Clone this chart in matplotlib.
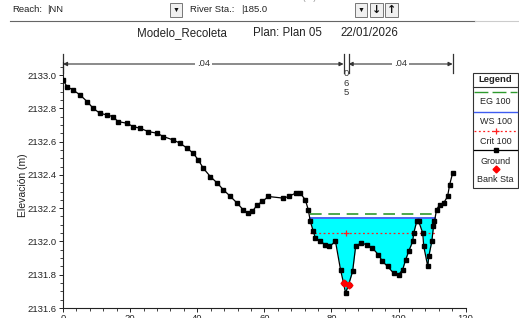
import numpy as np
import matplotlib
matplotlib.use("Agg")
import matplotlib.pyplot as plt
from matplotlib.lines import Line2D
from matplotlib.patches import Rectangle
import matplotlib.transforms as mtransforms

plt.rcParams['font.family'] = ['Liberation Sans', 'DejaVu Sans']

# ---------------- data ----------------
station = [0, 1.2, 3.0, 5.1, 7.2, 9.0, 11.0, 13.1, 14.9, 16.4, 19.1, 20.9, 23.0, 25.4,
           28.1, 29.9, 32.8, 34.9, 37.0, 38.8, 40.3, 41.8, 43.9, 46.0, 47.8, 49.9, 51.9,
           53.7, 55.2, 56.4, 57.9, 59.4, 61.2, 65.7, 67.2, 69.3, 70.7, 72.2, 73.1, 73.7,
           74.6, 75.2, 76.7, 78.2, 79.4, 81.2, 82.7, 83.6, 84.2, 85.1, 86.3, 87.2, 88.7,
           90.7, 92.2, 94.0, 95.2, 96.7, 98.5, 100.0, 101.2, 102.1, 103.0, 104.2, 104.5,
           105.4, 106.0, 107.2, 107.5, 108.7, 109.0, 109.9, 110.4, 110.7, 111.3, 112.2,
           113.4, 114.6, 115.2, 116.1]
elevation = [2132.97, 2132.93, 2132.91, 2132.88, 2132.84, 2132.80, 2132.77, 2132.76,
             2132.75, 2132.72, 2132.71, 2132.69, 2132.68, 2132.66, 2132.65, 2132.63,
             2132.61, 2132.59, 2132.56, 2132.53, 2132.49, 2132.44, 2132.39, 2132.35,
             2132.31, 2132.27, 2132.23, 2132.19, 2132.17, 2132.18, 2132.22, 2132.24,
             2132.27, 2132.26, 2132.27, 2132.29, 2132.29, 2132.25, 2132.19, 2132.12,
             2132.06, 2132.02, 2132.00, 2131.98, 2131.97, 2132.00, 2131.83, 2131.75,
             2131.69, 2131.74, 2131.82, 2131.97, 2131.99, 2131.98, 2131.96, 2131.92,
             2131.88, 2131.85, 2131.81, 2131.80, 2131.83, 2131.89, 2131.94, 2132.00,
             2132.05, 2132.12, 2132.12, 2132.05, 2131.97, 2131.85, 2131.91, 2132.00,
             2132.09, 2132.12, 2132.19, 2132.22, 2132.23, 2132.27, 2132.34, 2132.41]
bank_stations = [83.6, 85.1]
ws_elev = 2132.14
eg_elev = 2132.165
crit_elev = 2132.05
n_stations = [0, 83.6, 85.1, 116.1]
n_values = ['.04', '.065', '.04']
xticks = [0, 20, 40, 60, 80, 100, 120]
yticks = [2131.6, 2131.8, 2132.0, 2132.2, 2132.4, 2132.6, 2132.8, 2133.0]

st = np.array(station)
el = np.array(elevation)

W, H = 519, 318
fig = plt.figure(figsize=(W / 100, H / 100), dpi=100)
fig.patch.set_facecolor('white')


def P(x, y):
    return (x / W, 1 - y / H)


ax_l, ax_r, ax_b, ax_t = 63, 465.7, 308, 61.7
ax = fig.add_axes([ax_l / W, 1 - ax_b / H, (ax_r - ax_l) / W, (ax_b - ax_t) / H])
ax.set_xlim(0, 120)
ax.set_ylim(2131.6, 2133.0 + (75 - ax_t) / 166.4)
for s in ['top', 'right']:
    ax.spines[s].set_visible(False)
for s in ['left', 'bottom']:
    ax.spines[s].set_linewidth(0.8)
    ax.spines[s].set_color('#222222')

ax.set_xticks(xticks)
ax.set_xticklabels([str(v) for v in xticks])
ax.set_yticks(yticks)
ax.set_yticklabels([f"{v:.1f}" for v in yticks])
ax.set_xticks(np.arange(0, 121, 4), minor=True)
ax.set_yticks(np.arange(2131.6, 2133.05, 0.05), minor=True)
ax.tick_params(which='major', direction='out', length=3, width=0.7, labelsize=6.8,
               pad=1.5, colors='#222222')
ax.tick_params(which='minor', direction='out', length=2, width=0.6, colors='#222222')
ax.set_ylabel('Elevación (m)', fontsize=7.5, labelpad=0, color='#222222')


# water extent
def crossings(level):
    below = el < level
    idx = np.where(below)[0]
    i0, i1 = idx[0], idx[-1]
    xl = np.interp(level, [el[i0], el[i0 - 1]], [st[i0], st[i0 - 1]])
    xr = np.interp(level, [el[i1], el[i1 + 1]], [st[i1], st[i1 + 1]])
    return xl, xr


xl, xr = crossings(ws_elev)
ax.fill_between(st, el, ws_elev, where=el < ws_elev, interpolate=True,
                color='#00FFFF', linewidth=0, zorder=1)
ax.plot([xl, xr], [eg_elev, eg_elev], color='#2E9A2E', lw=1.2,
        dashes=(7, 4), zorder=3)
ax.plot([xl, xr], [ws_elev, ws_elev], color='#3E5CF0', lw=1.3, zorder=3)
ax.plot([xl, xr], [crit_elev, crit_elev], color='#FF2020', lw=0.9,
        linestyle=(0, (1.5, 2)), zorder=3)
thal = st[np.argmin(el)]
ax.plot([thal], [crit_elev], marker='+', color='#FF2020', ms=5, mew=0.9, zorder=4)

ax.plot(st, el, color='black', lw=0.9, marker='s', ms=3.3, zorder=5)
bank_el = np.interp(bank_stations, st, el)
ax.plot(bank_stations, bank_el, linestyle='none', marker='D', color='#FF0000',
        ms=3.5, zorder=6)

# Manning n annotations
trans = mtransforms.blended_transform_factory(ax.transData, ax.transAxes)
y_n = (ax_b - 64) / (ax_b - ax_t)
y_bar0 = (ax_b - 73) / (ax_b - ax_t)
y_bar1 = (ax_b - 54) / (ax_b - ax_t)
for s in n_stations:
    ax.add_line(Line2D([s, s], [y_bar0, y_bar1], transform=trans, color='#333333',
                       lw=0.9, clip_on=False))
for i, v in enumerate(n_values):
    a, b = n_stations[i], n_stations[i + 1]
    if b - a > 5:
        ax.annotate('', xy=(a, y_n), xytext=(b, y_n), xycoords=trans,
                    textcoords=trans,
                    arrowprops=dict(arrowstyle='<|-|>', color='#333333', lw=0.8,
                                    mutation_scale=6, shrinkA=0, shrinkB=0),
                    annotation_clip=False)
        ax.text((a + b) / 2, y_n, v, transform=trans, ha='center', va='center',
                fontsize=6.8, color='#333333',
                bbox=dict(facecolor='white', edgecolor='none', pad=1.2), clip_on=False)
    else:
        ax.text((a + b) / 2, (ax_b - 83) / (ax_b - ax_t), '\n'.join(v[1:]),
                transform=trans, ha='center', va='center', fontsize=6.8,
                color='#333333', linespacing=1.05, clip_on=False)

# title
fig.text(*P(137, 33), 'Modelo_Recoleta', fontsize=8.3, ha='left', va='center', color='#222222')
fig.text(*P(253, 33), 'Plan: Plan 05', fontsize=8.3, ha='left', va='center', color='#222222')
fig.text(*P(340, 33), '22/01/2026', fontsize=8.3, ha='left', va='center', color='#222222')

# toolbar
fig.text(*P(12, 10), 'Reach:', fontsize=6.8, ha='left', va='center', color='#222222')
fig.text(*P(47, 10), '|NN', fontsize=6.8, ha='left', va='center', color='#222222')
fig.text(*P(190, 10), 'River Sta.:', fontsize=6.8, ha='left', va='center', color='#222222')
fig.text(*P(241, 10), '|185.0', fontsize=6.8, ha='left', va='center', color='#222222')
fig.text(*P(290, -2), 'Distancia (m)', fontsize=6.5, ha='center', va='center', color='#999999')
for bx in [170, 355]:
    fig.patches.append(Rectangle(P(bx, 17), 12 / W, 14 / H, transform=fig.transFigure,
                                 facecolor='#F0F0F0', edgecolor='#777777', lw=0.7))
    fig.text(*P(bx + 6, 10), '▼', fontsize=5, ha='center', va='center', color='#111111')
for bx, g in [(370, '↓'), (385, '↑')]:
    fig.patches.append(Rectangle(P(bx, 17), 13 / W, 14 / H, transform=fig.transFigure,
                                 facecolor='#F0F0F0', edgecolor='#777777', lw=0.7))
    fig.text(*P(bx + 6.5, 10), g, fontsize=8, fontweight='bold', ha='center',
             va='center', color='#111111', family='DejaVu Sans')
fig.add_artist(Line2D([10 / W, 475 / W], [1 - 21 / H, 1 - 21 / H],
                      transform=fig.transFigure, color='#666666', lw=0.8))
fig.add_artist(Line2D([475 / W, 519 / W], [1 - 21 / H, 1 - 21 / H],
                      transform=fig.transFigure, color='#CCCCCC', lw=0.8))

# legend box
lx0, lx1, ly0, ly1 = 473, 518, 73, 188
fig.patches.append(Rectangle(P(lx0, ly1), (lx1 - lx0) / W, (ly1 - ly0) / H,
                             transform=fig.transFigure, facecolor='white',
                             edgecolor='#333333', lw=0.8))
cx = (lx0 + lx1) / 2
fig.text(*P(cx, 80), 'Legend', fontsize=6.8, fontweight='bold', ha='center',
         va='center', color='#222222')
fig.add_artist(Line2D([lx0 / W, lx1 / W], [1 - 86.5 / H] * 2, transform=fig.transFigure,
                      color='#333333', lw=0.8))


def leg_line(y, **kw):
    fig.add_artist(Line2D([(lx0 + 1) / W, (lx1 - 1) / W], [1 - y / H] * 2,
                          transform=fig.transFigure, **kw))


leg_line(92, color='#2E9A2E', lw=1.0, dashes=(10, 3))
fig.text(*P(cx, 102), 'EG 100', fontsize=6.5, ha='center', va='center', color='#222222')
leg_line(112, color='#3E5CF0', lw=1.0)
fig.text(*P(cx, 122), 'WS 100', fontsize=6.5, ha='center', va='center', color='#222222')
leg_line(131, color='#FF2020', lw=0.9, linestyle=(0, (1.5, 2)))
fig.add_artist(Line2D([cx / W], [1 - 131 / H], transform=fig.transFigure, marker='+',
                      color='#FF2020', ms=4, mew=0.9))
fig.text(*P(cx, 141), 'Crit 100', fontsize=6.5, ha='center', va='center', color='#222222')
leg_line(150, color='black', lw=0.9)
fig.add_artist(Line2D([cx / W], [1 - 150 / H], transform=fig.transFigure, marker='s',
                      color='black', ms=3.2))
fig.text(*P(cx, 161), 'Ground', fontsize=6.5, ha='center', va='center', color='#222222')
fig.add_artist(Line2D([cx / W], [1 - 169 / H], transform=fig.transFigure, marker='D',
                      color='#FF0000', ms=3.5, linestyle='none'))
fig.text(*P(cx, 179), 'Bank Sta', fontsize=6.5, ha='center', va='center', color='#222222')

fig.savefig('out.png', dpi=100)
